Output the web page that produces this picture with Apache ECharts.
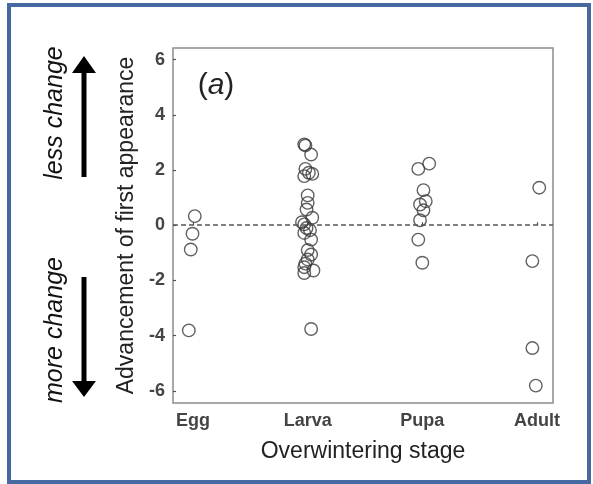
<!DOCTYPE html>
<html>
<head>
<meta charset="utf-8">
<script src="https://cdn.jsdelivr.net/npm/echarts@6/dist/echarts.min.js"></script>
<style>html,body{margin:0;padding:0;background:#fff}#c{width:593px;height:484px}</style>
</head>
<body>
<div id="c"></div>
<script>
// Categories (x positions 1..4)
var categories = ['Egg', 'Larva', 'Pupa', 'Adult'];
var yTicks = [-6, -4, -2, 0, 2, 4, 6];
var xTicks = [1, 2, 3, 4];

// Points per stage: x (jittered around category position) and y values
var eggX = [1.015, 0.995, 0.98, 0.963];
var eggY = [0.33, -0.31, -0.88, -3.81];

var larvaX = [1.97, 1.98, 2.03, 1.98, 1.97, 2.04, 2.01, 2.0, 2.0, 1.99, 2.04, 1.95, 1.97, 1.99, 2.02, 1.97, 2.03, 2.0, 2.03, 2.0, 1.98, 1.97, 2.05, 1.97, 2.03];
var larvaY = [2.93, 2.89, 2.56, 2.04, 1.78, 1.86, 1.9, 1.08, 0.81, 0.57, 0.27, 0.11, 0.03, -0.1, -0.18, -0.28, -0.52, -0.9, -1.06, -1.24, -1.39, -1.52, -1.64, -1.73, -3.76];

var pupaX = [2.965, 3.06, 3.01, 3.03, 2.98, 3.01, 2.98, 2.965, 3.0];
var pupaY = [2.04, 2.23, 1.27, 0.87, 0.75, 0.54, 0.18, -0.52, -1.36];

var adultX = [4.02, 3.96, 3.96, 3.99];
var adultY = [1.36, -1.3, -4.45, -5.81];

function zip(xs, ys) { return xs.map(function (x, i) { return [x, ys[i]]; }); }
var allPoints = [].concat(zip(eggX, eggY), zip(larvaX, larvaY), zip(pupaX, pupaY), zip(adultX, adultY));

var chart = echarts.init(document.getElementById('c'), null, {renderer: 'canvas'});
var FONT = 'Liberation Sans, Arial, sans-serif';

chart.setOption({
  animation: false,
  backgroundColor: '#fff',
  grid: {left: 173, right: 40, top: 48, bottom: 81, show: true, borderColor: '#8c8c8c', borderWidth: 1.5, backgroundColor: 'transparent'},
  xAxis: {
    type: 'value', min: 0.825, max: 4.14,
    axisLine: {show: false},
    splitLine: {show: false},
    axisTick: {show: true, inside: true, length: 3, customValues: xTicks, lineStyle: {color: '#555', width: 1.2}},
    axisLabel: {customValues: xTicks, margin: 9, fontFamily: FONT, fontSize: 18, fontWeight: 'bold', color: '#444',
      formatter: function (v) { return categories[Math.round(v) - 1] || ''; }},
    name: 'Overwintering stage', nameLocation: 'middle', nameGap: 37,
    nameTextStyle: {fontFamily: FONT, fontSize: 23, color: '#222'}
  },
  yAxis: {
    type: 'value', min: -6.44, max: 6.42,
    axisLine: {show: false},
    splitLine: {show: false},
    axisTick: {show: true, inside: true, length: 3, customValues: yTicks, lineStyle: {color: '#555', width: 1.2}},
    axisLabel: {customValues: yTicks, margin: 8, fontFamily: FONT, fontSize: 18, fontWeight: 'bold', color: '#444'},
    name: 'Advancement of first appearance', nameLocation: 'middle', nameGap: 26,
    nameTextStyle: {fontFamily: FONT, fontSize: 23, color: '#222'}
  },
  series: [{
    type: 'scatter',
    data: allPoints,
    symbol: 'circle', symbolSize: 12.5,
    itemStyle: {color: 'rgba(255,255,255,0)', borderColor: '#3a3a3a', borderWidth: 1.4},
    markLine: {
      silent: true, symbol: ['none', 'none'], label: {show: false},
      lineStyle: {type: [5, 3], color: '#555', width: 1.5},
      data: [{yAxis: 0}]
    }
  }],
  graphic: [
    {type: 'rect', shape: {x: 9, y: 5, width: 580, height: 477}, style: {fill: 'none', stroke: '#4569a0', lineWidth: 4}},
    {type: 'text', x: 216, y: 86, style: {
      rich: {n: {fontFamily: FONT, fontSize: 30, fill: '#222'}, i: {fontFamily: FONT, fontSize: 30, fontStyle: 'italic', fill: '#222'}},
      text: '{n|(}{i|a}{n|)}', align: 'center', verticalAlign: 'middle'}},
    // less change arrow (up)
    {type: 'polygon', shape: {points: [[84, 56], [96, 73], [86.5, 73], [86.5, 177], [81.5, 177], [81.5, 73], [72, 73]]}, style: {fill: '#000'}},
    // more change arrow (down)
    {type: 'polygon', shape: {points: [[84, 397], [96, 381], [86.5, 381], [86.5, 277], [81.5, 277], [81.5, 381], [72, 381]]}, style: {fill: '#000'}},
    {type: 'text', x: 55, y: 113, rotation: Math.PI / 2, style: {text: 'less change', fontFamily: FONT, fontSize: 25, fontStyle: 'italic', fill: '#111', align: 'center', verticalAlign: 'middle'}},
    {type: 'text', x: 55, y: 330, rotation: Math.PI / 2, style: {text: 'more change', fontFamily: FONT, fontSize: 25, fontStyle: 'italic', fill: '#111', align: 'center', verticalAlign: 'middle'}}
  ]
});
</script>
</body>
</html>
